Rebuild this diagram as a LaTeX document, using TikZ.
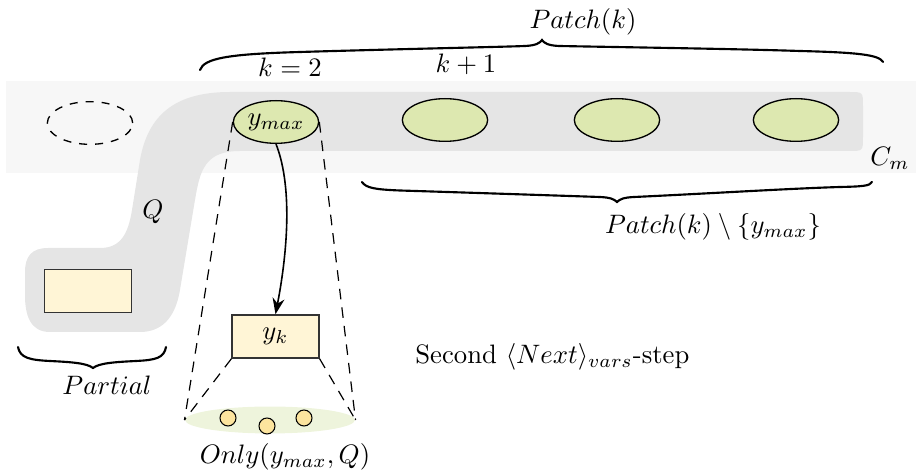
\documentclass[tikz,border=0pt]{standalone}
\usetikzlibrary{shapes.geometric,arrows.meta}
\definecolor{bandgray}{HTML}{F7F7F7}
\definecolor{qgray}{HTML}{E5E5E5}
\definecolor{ygreen}{HTML}{DDE8B0}
\definecolor{paleyellow}{HTML}{FFF5D6}
\definecolor{dotyellow}{HTML}{FCE49E}
\definecolor{palegreen}{HTML}{EEF4DC}
\tikzset{
  var/.style={ellipse,draw,fill=ygreen,line width=0.5pt,minimum width=32pt,minimum height=16pt,inner sep=0pt},
  ghost/.style={ellipse,draw,dashed,line width=0.5pt,minimum width=32pt,minimum height=16pt,inner sep=0pt},
  cell/.style={rectangle,draw=black!80,fill=paleyellow,line width=0.5pt,minimum width=32.6pt,minimum height=16.2pt,inner sep=0pt},
  dot/.style={circle,draw,fill=dotyellow,line width=0.4pt,minimum size=6pt,inner sep=0pt},
  guide/.style={dashed,line width=0.45pt,dash pattern=on 4pt off 3pt},
  bracepath/.style={line width=0.8pt,line cap=round}
}
\begin{document}
\begin{tikzpicture}[x=0.375pt,y=-0.375pt]
\useasboundingbox (0,0) rectangle (916,470);

% light background band
\fill[bandgray] (6,81) rectangle (916,173);

% the region Q
\fill[qgray] (230,92) -- (849,92) .. controls (863,92) .. (863,106) -- (863,137)
  .. controls (863,151) .. (849,151) -- (240,151)
  .. controls (205,151) and (200,170) .. (195,200) -- (180,290)
  .. controls (175,320) and (160,332) .. (140,332) -- (50,332)
  .. controls (30,332) and (25,315) .. (25,295) -- (25,272)
  .. controls (25,256) and (32,248) .. (48,248) -- (100,248)
  .. controls (120,248) and (128,235) .. (132,210) -- (140,160)
  .. controls (148,115) and (175,92) .. (230,92) -- cycle;

% variables in the band
\node[ghost] (g0) at (90,123) {};
\node[var] (ymax) at (276,122) {$y_{max}$};
\node[var] (v1) at (445,120) {};
\node[var] (v2) at (617,120) {};
\node[var] (v3) at (796,120) {};

% partial assignment and y_k
\node[cell] (part) at (88,291) {};
\node[cell] (yk) at (275.5,336.5) {$y_k$};

% bottom ellipse with its dots
\node[ellipse,fill=palegreen,minimum width=63.75pt,minimum height=10.1pt,inner sep=0pt] (only) at (270,420) {};
\node[dot] (d1) at (228,418) {};
\node[dot] (d2) at (267,426) {};
\node[dot] (d3) at (304,418) {};

% projection cone
\draw[guide] (ymax.west) -- (only.west);
\draw[guide] (ymax.east) -- (only.east);
\draw[guide] (yk.south west) -- (only.west);
\draw[guide] (yk.south east) -- (only.east);

% arrow y_max -> y_k
\draw[-{Stealth[length=6pt,width=4.5pt]},line width=0.6pt] (ymax.south) .. controls (294,190) and (286,260) .. (yk.north);

% brace over the patch
\coordinate (pt1) at (200,70);
\coordinate (pt2) at (883,62);
\draw[bracepath] (pt1) .. controls (204,58) and (230,54) .. (300,52)
  .. controls (400,49) and (500,47) .. (525,46)
  .. controls (536,45.5) and (540,43) .. (542,40)
  .. controls (544,43) and (548,45.5) .. (559,46)
  .. controls (640,47.5) and (740,49) .. (800,51)
  .. controls (860,52.5) and (879,55) .. (pt2);

% brace under the rest of the patch
\coordinate (pb1) at (362,182);
\coordinate (pb2) at (872,182);
\draw[bracepath] (pb1) .. controls (366,188) and (375,189.5) .. (400,190.5)
  .. controls (480,193) and (570,196) .. (600,197)
  .. controls (610,197.5) and (614,199) .. (617,202)
  .. controls (620,199) and (624,197.5) .. (634,197)
  .. controls (700,194) and (790,188.5) .. (840,187)
  .. controls (862,186.5) and (870,186) .. (pb2);

% brace under the partial assignment
\coordinate (pl1) at (18,347);
\coordinate (pl2) at (166,347);
\draw[bracepath] (pl1) .. controls (20,358) and (30,360) .. (50,361)
  .. controls (70,362) and (87,363) .. (93,368)
  .. controls (99,363) and (116,362) .. (136,361)
  .. controls (156,360) and (164,358) .. (pl2);

% labels
\node (lpatch) at (583,22) {$Patch(k)$};
\node (lk2) at (290,67) {$k=2$};
\node (lk1) at (466,64) {$k+1$};
\node (lrest) at (713,227) {$Patch(k)\setminus\{y_{max}\}$};
\node (lcm) at (890,158) {$C_m$};
\node (lq) at (153,212) {$Q$};
\node (lpartial) at (107,385) {$Partial$};
\node (lonly) at (285,457) {$Only(y_{max},Q)$};
\node[anchor=west] (lstep) at (406,357) {Second $\langle Next\rangle_{vars}$-step};
\end{tikzpicture}
\end{document}
